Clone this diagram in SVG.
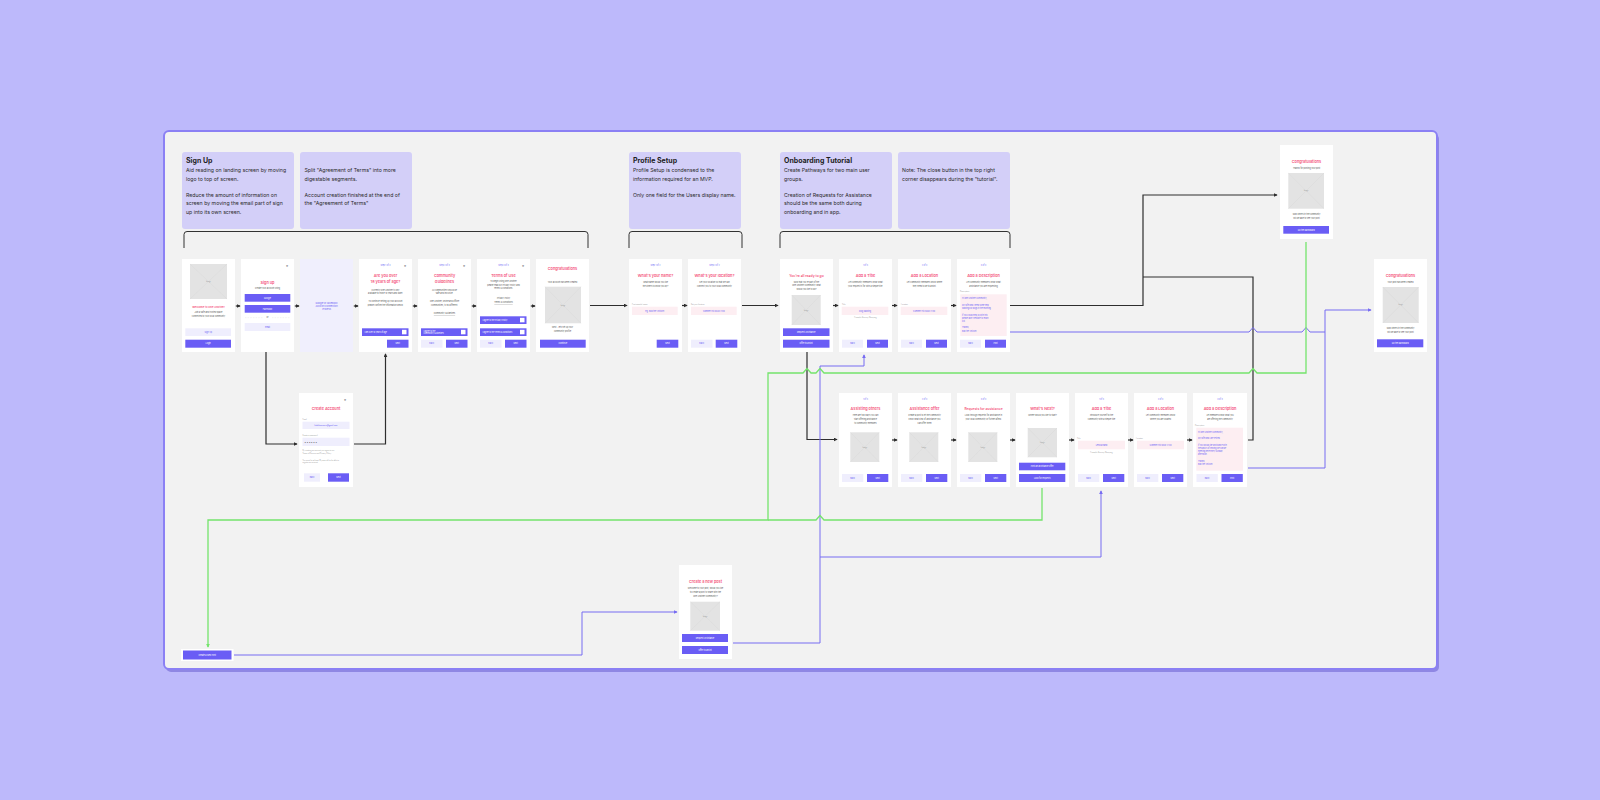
<svg xmlns="http://www.w3.org/2000/svg" width="1600" height="800" viewBox="0 0 1600 800">
<style>
text{font-family:Inter,"Noto Sans","DejaVu Sans",sans-serif}
.sc{fill:#fff}
.nt{fill:#d3cff8}
.nh{font-size:7px;font-weight:700;fill:#1e1e1e}
.nb{font-size:5.2px;fill:#2b2b2b}
.st{font-size:2px;fill:#6c5ff5;text-anchor:middle}
.tt{font-size:3.8px;font-weight:600;fill:#f4527b;text-anchor:middle}
.bd{font-size:2px;fill:#555;text-anchor:middle}
.lb{font-size:1.7px;fill:#999}
.bp{fill:#6a5df5}
.bl{fill:#efeefd}
.wt{font-size:2px;fill:#fff;text-anchor:middle}
.wl{font-size:1.9px;fill:#fff}
.pt{font-size:2px;fill:#6a5df5;text-anchor:middle}
.pl{font-size:1.9px;fill:#6a5df5}
.im{fill:#e3e3e3}
.imx{stroke:#d4d4d4;stroke-width:0.3;fill:none}
.it{font-size:1.6px;fill:#999;text-anchor:middle}
.in{fill:#fdeef2}
.cx{font-size:4px;fill:#333;text-anchor:middle}
.k{fill:none;stroke:#2e2e2e;stroke-width:1.2}
.g{fill:none;stroke:#74e46c;stroke-width:1.3}
.p{fill:none;stroke:#776cf2;stroke-width:1}
.br{fill:none;stroke:#333;stroke-width:1}
</style>
<defs>
<marker id="ak" viewBox="0 0 6 6" refX="5" refY="3" markerWidth="4" markerHeight="4" orient="auto" markerUnits="userSpaceOnUse"><path d="M0,0L6,3L0,6z" fill="#2e2e2e"/></marker>
<marker id="ag" viewBox="0 0 6 6" refX="5" refY="3" markerWidth="4" markerHeight="4" orient="auto" markerUnits="userSpaceOnUse"><path d="M0,0L6,3L0,6z" fill="#74e46c"/></marker>
<marker id="ap" viewBox="0 0 6 6" refX="5" refY="3" markerWidth="4" markerHeight="4" orient="auto" markerUnits="userSpaceOnUse"><path d="M0,0L6,3L0,6z" fill="#776cf2"/></marker>
</defs>

<rect width="1600" height="800" fill="#bdb9fb"/>
<rect x="166" y="134" width="1273" height="538" rx="5" fill="#8f87e3"/>
<rect x="164" y="131" width="1273" height="538" rx="5" fill="#f2f2f2" stroke="#8b80f4" stroke-width="2"/>

<!-- notes -->
<g id="note-signup">
<rect class="nt" x="182" y="152" width="112" height="77" rx="3"/>
<text class="nh" x="186" y="163">Sign Up</text>
<text class="nb" x="186" y="172.3">Aid reading on landing screen by moving</text>
<text class="nb" x="186" y="180.7">logo to top of screen.</text>
<text class="nb" x="186" y="197">Reduce the amount of information on</text>
<text class="nb" x="186" y="205.3">screen by moving the email part of sign</text>
<text class="nb" x="186" y="213.7">up into its own screen.</text>
</g>
<g id="note-terms">
<rect class="nt" x="300" y="152" width="112" height="77" rx="3"/>
<text class="nb" x="304.5" y="172.3">Split "Agreement of Terms" into more</text>
<text class="nb" x="304.5" y="180.7">digestable segments.</text>
<text class="nb" x="304.5" y="197">Account creation finished at the end of</text>
<text class="nb" x="304.5" y="205.3">the "Agreement of Terms"</text>
</g>
<g id="note-profile">
<rect class="nt" x="629" y="152" width="112" height="77" rx="3"/>
<text class="nh" x="633" y="163">Profile Setup</text>
<text class="nb" x="633" y="172.3">Profile Setup is condensed to the</text>
<text class="nb" x="633" y="180.7">information required for an MVP.</text>
<text class="nb" x="633" y="197">Only one field for the Users display name.</text>
</g>
<g id="note-onboarding">
<rect class="nt" x="780" y="152" width="112" height="77" rx="3"/>
<text class="nh" x="784" y="163">Onboarding Tutorial</text>
<text class="nb" x="784" y="172.3">Create Pathways for two main user</text>
<text class="nb" x="784" y="180.7">groups.</text>
<text class="nb" x="784" y="197">Creation of Requests for Assistance</text>
<text class="nb" x="784" y="205.3">should be the same both during</text>
<text class="nb" x="784" y="213.7">onboarding and in app.</text>
</g>
<g id="note-close">
<rect class="nt" x="898" y="152" width="112" height="77" rx="3"/>
<text class="nb" x="902" y="172.3">Note: The close button in the top right</text>
<text class="nb" x="902" y="180.7">corner disappears during the "tutorial".</text>
</g>

<g id="brackets">
<path class="br" d="M184,248V234.5Q184,231.5 187,231.5H585Q588,231.5 588,234.5V248"/>
<path class="br" d="M629,248V234.5Q629,231.5 632,231.5H739Q742,231.5 742,234.5V248"/>
<path class="br" d="M780,248V234.5Q780,231.5 783,231.5H1007Q1010,231.5 1010,234.5V248"/>
</g>

<!-- connectors -->
<g id="connectors">
<path class="k" d="M235.8,306H240" marker-end="url(#ak)"/>
<path class="k" d="M294.8,306H299" marker-end="url(#ak)"/>
<path class="k" d="M353.8,306H358" marker-end="url(#ak)"/>
<path class="k" d="M412.8,306H417" marker-end="url(#ak)"/>
<path class="k" d="M471.8,306H476" marker-end="url(#ak)"/>
<path class="k" d="M530.8,306H535" marker-end="url(#ak)"/>
<path class="k" d="M590,305.5H627" marker-end="url(#ak)"/>
<path class="k" d="M682,305.5H687" marker-end="url(#ak)"/>
<path class="k" d="M742,305.5H778" marker-end="url(#ak)"/>
<path class="k" d="M833,305.5H838" marker-end="url(#ak)"/>
<path class="k" d="M892,305.5H897" marker-end="url(#ak)"/>
<path class="k" d="M951,305.5H956" marker-end="url(#ak)"/>
<path class="k" d="M1010,305.5H1143V195H1277" marker-end="url(#ak)"/>
<path class="k" d="M1248,440H1253V277H1143"/>
<path class="k" d="M266,352V444H297" marker-end="url(#ak)"/>
<path class="k" d="M354,444H385.5V354" marker-end="url(#ak)"/>
<path class="k" d="M807,352V439.5H837" marker-end="url(#ak)"/>
<path class="k" d="M892,440H897" marker-end="url(#ak)"/>
<path class="k" d="M951,440H956" marker-end="url(#ak)"/>
<path class="k" d="M1010,440H1015" marker-end="url(#ak)"/>
<path class="k" d="M1069,440H1074" marker-end="url(#ak)"/>
<path class="k" d="M1128,440H1133" marker-end="url(#ak)"/>
<path class="k" d="M1187,440H1192" marker-end="url(#ak)"/>
<path class="p" d="M1010,332H1249L1253,327.5L1257,332H1302L1306,327.5L1310,332H1325"/>
<path class="p" d="M1248,468H1325V310H1371" marker-end="url(#ap)"/>
<path class="p" d="M234,655H582V612H677" marker-end="url(#ap)"/>
<path class="p" d="M733,643H820V366H864V355" marker-end="url(#ap)"/>
<path class="p" d="M820,557H1101V491" marker-end="url(#ap)"/>
<path class="g" d="M1306,242V373H1257L1253,368.5L1249,373H824L820,368.5L816,373H811L807,368.5L803,373H768V520H208V647" marker-end="url(#ag)"/>
<path class="g" d="M1042,488V520H824L820,515.5L816,520H768"/>
</g>

<!-- Row 1 screens -->
<g id="s-welcome" transform="translate(182,259)">
<rect class="sc" width="53" height="93"/>
<rect class="im" x="8" y="5" width="37" height="35"/><path class="imx" d="M8,5L45,40M45,5L8,40"/><text class="it" x="26.5" y="23">Image</text>
<text class="tt" x="26.5" y="48.5" style="font-size:2.7px">Welcome to One Another</text>
<text class="bd" x="26.5" y="54">Join a safe and trusted space</text>
<text class="bd" x="26.5" y="57.5">connected to your local community</text>
<rect class="bl" x="3.3" y="69.3" width="45.7" height="7.7"/><text class="pt" x="26.2" y="73.9">Sign Up</text>
<rect class="bp" x="3.3" y="80.7" width="45.7" height="8"/><text class="wt" x="26.2" y="85.4">Login</text>
</g>
<g id="s-signup" transform="translate(241,259)">
<rect class="sc" width="53" height="93"/>
<text class="cx" x="46" y="8.2">×</text>
<text class="tt" x="26.5" y="24.5">Sign up</text>
<text class="bd" x="26.5" y="30">Create your account using</text>
<rect class="bp" x="3.7" y="35" width="45.6" height="7.7"/><text class="wt" x="26.5" y="39.5">Google</text>
<rect class="bp" x="3.7" y="46" width="45.6" height="7.7"/><text class="wt" x="26.5" y="50.5">Facebook</text>
<path d="M4,58.7H22M31,58.7H49" stroke="#ccc" stroke-width="0.3" stroke-dasharray="0.8,0.8"/>
<text class="bd" x="26.5" y="59.3">or</text>
<rect class="bl" x="3.7" y="64" width="45.6" height="8"/><text class="pt" x="26.5" y="68.7">Email</text>
</g>
<g id="s-connect" transform="translate(300,259)">
<rect width="53" height="93" fill="#f0effd"/>
<text class="pt" x="26.5" y="44.5" style="font-size:2.3px">Google or Facebook</text>
<text class="pt" x="26.5" y="47.8" style="font-size:2.3px">Account Connection</text>
<text class="pt" x="26.5" y="51.1" style="font-size:2.3px">Process</text>
</g>
<g id="s-age" transform="translate(359,259)">
<rect class="sc" width="53" height="93"/>
<text class="st" x="26.5" y="7">Step 1 of 3</text><text class="cx" x="46" y="8.2">×</text>
<text class="tt" x="26.5" y="17.5">Are you over</text>
<text class="tt" x="26.5" y="24">18 years of age?</text>
<text class="bd" x="26.5" y="31.5">Currently One Another is only</text>
<text class="bd" x="26.5" y="35">available to those 18 years and older.</text>
<text class="bd" x="26.5" y="43">To continue setting up your account</text>
<text class="bd" x="26.5" y="46.5">please confirm the information below.</text>
<rect class="bp" x="3" y="69.3" width="46.5" height="7.7"/><text class="wl" x="5.5" y="73.8">I am over 18 years of age</text><rect x="43" y="70.8" width="4.5" height="4.5" fill="#fff"/>
<rect class="bp" x="28" y="80.7" width="21.5" height="8"/><text class="wt" x="38.7" y="85.4">Next</text>
</g>
<g id="s-guidelines" transform="translate(418,259)">
<rect class="sc" width="53" height="93"/>
<text class="st" x="26.5" y="7">Step 2 of 3</text><text class="cx" x="46" y="8.2">×</text>
<text class="tt" x="26.5" y="17.5">Community</text>
<text class="tt" x="26.5" y="24">Guidelines</text>
<text class="bd" x="26.5" y="31.5">All communities should be</text>
<text class="bd" x="26.5" y="35">safe and inclusive.</text>
<text class="bd" x="26.5" y="43">One Another, online and offline</text>
<text class="bd" x="26.5" y="46.5">communities, is no different.</text>
<text class="bd" x="26.5" y="55" text-decoration="underline">Community Guidelines</text>
<rect class="bp" x="3" y="69.3" width="46.5" height="7.7"/><text class="wl" x="5.5" y="72.6">I agree to the</text><text class="wl" x="5.5" y="75.1">Community Guidelines</text><rect x="43" y="70.8" width="4.5" height="4.5" fill="#fff"/>
<rect class="bl" x="3" y="80.7" width="21.5" height="8"/><text class="pt" x="13.7" y="85.4">Back</text>
<rect class="bp" x="28" y="80.7" width="21.5" height="8"/><text class="wt" x="38.7" y="85.4">Next</text>
</g>
<g id="s-terms" transform="translate(477,259)">
<rect class="sc" width="53" height="93"/>
<text class="st" x="26.5" y="7">Step 3 of 3</text><text class="cx" x="46" y="8.2">×</text>
<text class="tt" x="26.5" y="17.5">Terms of Use</text>
<text class="bd" x="26.5" y="23.4">To begin using One Another</text>
<text class="bd" x="26.5" y="26.7">please read our Privacy Policy and</text>
<text class="bd" x="26.5" y="30">Terms &amp; Conditions.</text>
<text class="bd" x="26.5" y="40">Privacy Policy</text>
<text class="bd" x="26.5" y="44" text-decoration="underline">Terms &amp; Conditions</text>
<rect class="bp" x="3" y="57.3" width="46.5" height="7.7"/><text class="wl" x="5.5" y="61.8">I agree to the Privacy Policy</text><rect x="43" y="58.8" width="4.5" height="4.5" fill="#fff"/>
<rect class="bp" x="3" y="69.3" width="46.5" height="7.7"/><text class="wl" x="5.5" y="73.8">I agree to the Terms &amp; Conditions</text><rect x="43" y="70.8" width="4.5" height="4.5" fill="#fff"/>
<rect class="bl" x="3" y="80.7" width="21.5" height="8"/><text class="pt" x="13.7" y="85.4">Back</text>
<rect class="bp" x="28" y="80.7" width="21.5" height="8"/><text class="wt" x="38.7" y="85.4">Next</text>
</g>
<g id="s-congrats-account" transform="translate(536,259)">
<rect class="sc" width="53" height="93"/>
<text class="tt" x="26.5" y="11.3">Congratulations</text>
<text class="bd" x="26.5" y="23.7">Your account has been created</text>
<rect class="im" x="9" y="27.7" width="36" height="36.6"/><path class="imx" d="M9,27.7L45,64.3M45,27.7L9,64.3"/><text class="it" x="27" y="46.5">Image</text>
<text class="bd" x="26.5" y="69.4">Next - lets set up your</text>
<text class="bd" x="26.5" y="73.4">community profile</text>
<rect class="bp" x="4" y="80.7" width="45.7" height="8"/><text class="wt" x="26.8" y="85.4">Continue</text>
</g>
<g id="s-name" transform="translate(629,259)">
<rect class="sc" width="53" height="93"/>
<text class="st" x="26.5" y="7">Step 1 of 2</text>
<text class="tt" x="26.5" y="17.5">What's your name?</text>
<text class="bd" x="26.5" y="24">What name would you like</text>
<text class="bd" x="26.5" y="27.7">the others to know you by?</text>
<text class="lb" x="3" y="45.8">First name(s) name</text>
<rect class="in" x="3" y="47.7" width="45.7" height="8.3"/><text class="pt" x="25.8" y="52.5">eg. Bob the Unicorn</text>
<rect class="bp" x="27.7" y="80.7" width="21.6" height="8"/><text class="wt" x="38.5" y="85.4">Next</text>
</g>
<g id="s-location" transform="translate(688,259)">
<rect class="sc" width="53" height="93"/>
<text class="st" x="26.5" y="7">Step 2 of 2</text>
<text class="tt" x="26.5" y="17.5">What's your location?</text>
<text class="bd" x="26.5" y="24">Set your location so that we can</text>
<text class="bd" x="26.5" y="27.7">connect you to your local community</text>
<text class="lb" x="3" y="45.8">Set your location</text>
<rect class="in" x="3" y="47.7" width="45.7" height="8.3"/><text class="pt" x="25.8" y="52.5">Summer Hill NSW 2130</text>
<rect class="bl" x="3" y="80.7" width="21.5" height="8"/><text class="pt" x="13.7" y="85.4">Back</text>
<rect class="bp" x="27.7" y="80.7" width="21.6" height="8"/><text class="wt" x="38.5" y="85.4">Next</text>
</g>
<g id="s-ready" transform="translate(780,259)">
<rect class="sc" width="53" height="93"/>
<text class="tt" x="26.5" y="17.5" style="font-size:3.4px">You're all ready to go</text>
<text class="bd" x="26.5" y="24">Now that you're part of the</text>
<text class="bd" x="26.5" y="27.4">One Another Community what</text>
<text class="bd" x="26.5" y="30.8">would you like to do?</text>
<rect class="im" x="11.7" y="36" width="29" height="30"/><path class="imx" d="M11.7,36L40.7,66M40.7,36L11.7,66"/><text class="it" x="26.2" y="51.5">Image</text>
<rect class="bp" x="3" y="69.3" width="46.5" height="7.7"/><text class="wt" x="26.2" y="73.9">Request Assistance</text>
<rect class="bp" x="3" y="80.7" width="46.5" height="8"/><text class="wt" x="26.2" y="85.4">Offer to assist</text>
</g>
<g id="s-req-title" transform="translate(839,259)">
<rect class="sc" width="53" height="93"/>
<text class="st" x="26.5" y="7">1 of 3</text>
<text class="tt" x="26.5" y="17.5">Add a Title</text>
<text class="bd" x="26.5" y="24">Let community members know what</text>
<text class="bd" x="26.5" y="27.7">your request is for with a simple title.</text>
<text class="lb" x="3" y="45.8">Title</text>
<rect class="in" x="2.7" y="47.7" width="46.6" height="8.3"/><text class="pt" x="26" y="52.5">Dog Walking</text>
<text class="lb" x="26.5" y="59.3" text-anchor="middle">Example: Grocery Shopping</text>
<rect class="bl" x="3" y="80.7" width="21" height="8"/><text class="pt" x="13.5" y="85.4">Back</text>
<rect class="bp" x="28" y="80.7" width="21" height="8"/><text class="wt" x="38.5" y="85.4">Next</text>
</g>
<g id="s-req-location" transform="translate(898,259)">
<rect class="sc" width="53" height="93"/>
<text class="st" x="26.5" y="7">2 of 3</text>
<text class="tt" x="26.5" y="17.5">Add a Location</text>
<text class="bd" x="26.5" y="24">Let community members know where</text>
<text class="bd" x="26.5" y="27.7">they need to be to assist.</text>
<text class="lb" x="3" y="45.8">Location</text>
<rect class="in" x="2.7" y="47.7" width="46.6" height="8.3"/><text class="pt" x="26" y="52.5">Summer Hill NSW 2130</text>
<rect class="bl" x="3" y="80.7" width="21" height="8"/><text class="pt" x="13.5" y="85.4">Back</text>
<rect class="bp" x="28" y="80.7" width="21" height="8"/><text class="wt" x="38.5" y="85.4">Next</text>
</g>
<g id="s-req-description" transform="translate(957,259)">
<rect class="sc" width="53" height="93"/>
<text class="st" x="26.5" y="7">3 of 3</text>
<text class="tt" x="26.5" y="17.5">Add a Description</text>
<text class="bd" x="26.5" y="24">Let community members know what</text>
<text class="bd" x="26.5" y="27.7">assistance you are requesting</text>
<text class="lb" x="3" y="33">Description</text>
<rect class="in" x="3.3" y="35.3" width="46.4" height="41.7"/>
<text class="pl" x="5" y="40">Hi One Another Community,</text>
<text class="pl" x="5" y="46.6">My wife and I need some help</text>
<text class="pl" x="5" y="49.9">walking our dogs in the morning.</text>
<text class="pl" x="5" y="56.6">If you could help us with this</text>
<text class="pl" x="5" y="59.9">please don't hesitate to reach</text>
<text class="pl" x="5" y="63.2">out.</text>
<text class="pl" x="5" y="69.3">Thanks,</text>
<text class="pl" x="5" y="72.6">Bob the Unicorn</text>
<rect class="bl" x="3" y="80.7" width="21" height="8"/><text class="pt" x="13.5" y="85.4">Back</text>
<rect class="bp" x="28" y="80.7" width="21" height="8"/><text class="wt" x="38.5" y="85.4">Post</text>
</g>

<g id="s-congrats-offer" transform="translate(1280,145)">
<rect class="sc" width="53" height="94"/>
<text class="tt" x="26.5" y="18">Congratulations</text>
<text class="bd" x="26.5" y="23.6">Thanks for posting your post</text>
<rect class="im" x="8.3" y="28" width="35.7" height="35.7"/><path class="imx" d="M8.3,28L44,63.7M44,28L8.3,63.7"/><text class="it" x="26.2" y="46.3">Image</text>
<text class="bd" x="26.5" y="70.4">Now others in the community</text>
<text class="bd" x="26.5" y="74.4">will be able to see your post</text>
<rect class="bp" x="3.3" y="81" width="45.7" height="7.7"/><text class="wt" x="26.2" y="85.6">Go the dashboard</text>
</g>
<g id="s-congrats-post" transform="translate(1374,259)">
<rect class="sc" width="53" height="93"/>
<text class="tt" x="26.5" y="17.6">Congratulations</text>
<text class="bd" x="26.5" y="24">Your post has been created</text>
<rect class="im" x="8.7" y="28" width="36" height="36"/><path class="imx" d="M8.7,28L44.7,64M44.7,28L8.7,64"/><text class="it" x="26.7" y="46.3">Image</text>
<text class="bd" x="26.5" y="70">Now others in the community</text>
<text class="bd" x="26.5" y="74">will be able to see your post</text>
<rect class="bp" x="3" y="80.3" width="46.3" height="8"/><text class="wt" x="26.2" y="85">Go the dashboard</text>
</g>

<g id="s-create-account" transform="translate(299,393)">
<rect class="sc" width="54" height="94"/>
<text class="cx" x="46" y="8.2">×</text>
<text class="tt" x="27" y="17.3">Create Account</text>
<text class="lb" x="3.5" y="27">Email</text>
<rect class="bl" x="3.5" y="28.7" width="47" height="7.3"/><text class="pt" x="27" y="33" style="font-size:1.8px">bobtheunicorn@gmail.com</text>
<text class="lb" x="3.5" y="42.7">Create a password</text>
<rect class="bl" x="3.5" y="44.7" width="47" height="8.3"/><text x="5.5" y="50" style="font-size:2.6px;fill:#333">• • • • • •</text>
<text class="lb" x="3.5" y="58.3">By creating an account you agree to our</text>
<text class="lb" x="3.5" y="60.6">Terms of Service and Privacy Policy</text>
<text class="lb" x="3.5" y="67.5">You must be at least 18 years old to be able to</text>
<text class="lb" x="3.5" y="69.8">register an account</text>
<rect class="bl" x="5" y="80.3" width="16" height="8.4"/><text class="pt" x="13" y="85.2">Back</text>
<rect class="bp" x="29" y="80.3" width="21" height="8.4"/><text class="wt" x="39.5" y="85.2">Next</text>
</g>

<!-- Row 2 screens -->
<g id="s-assisting" transform="translate(839,393)">
<rect class="sc" width="53" height="94"/>
<text class="st" x="26.5" y="7">1 of 3</text>
<text class="tt" x="26.5" y="17.3">Assisting others</text>
<text class="bd" x="26.5" y="23.4">Here are two ways you can</text>
<text class="bd" x="26.5" y="27">start offering assistance</text>
<text class="bd" x="26.5" y="30.6">to community members</text>
<rect class="im" x="11.3" y="39.3" width="29" height="29.7"/><path class="imx" d="M11.3,39.3L40.3,69M40.3,39.3L11.3,69"/><text class="it" x="25.8" y="54.6">Image</text>
<rect class="bl" x="3" y="81" width="21.3" height="8"/><text class="pt" x="13.6" y="85.7">Back</text>
<rect class="bp" x="28" y="81" width="21.3" height="8"/><text class="wt" x="38.6" y="85.7">Next</text>
</g>
<g id="s-offer" transform="translate(898,393)">
<rect class="sc" width="53" height="94"/>
<text class="st" x="26.5" y="7">2 of 3</text>
<text class="tt" x="26.5" y="17.3">Assistance offer</text>
<text class="bd" x="26.5" y="23.4">Create a post to let the community</text>
<text class="bd" x="26.5" y="27">know what kind of assistance you</text>
<text class="bd" x="26.5" y="30.6">can offer them</text>
<rect class="im" x="11.3" y="39.3" width="29" height="29.7"/><path class="imx" d="M11.3,39.3L40.3,69M40.3,39.3L11.3,69"/><text class="it" x="25.8" y="54.6">Image</text>
<rect class="bl" x="3" y="81" width="21.3" height="8"/><text class="pt" x="13.6" y="85.7">Back</text>
<rect class="bp" x="28" y="81" width="21.3" height="8"/><text class="wt" x="38.6" y="85.7">Next</text>
</g>
<g id="s-requests" transform="translate(957,393)">
<rect class="sc" width="53" height="94"/>
<text class="st" x="26.5" y="7">3 of 3</text>
<text class="tt" x="26.5" y="17.3" style="font-size:3.3px">Requests for assistance</text>
<text class="bd" x="26.5" y="23.4">Look through requests for assistance in</text>
<text class="bd" x="26.5" y="27">your local community or further afield.</text>
<rect class="im" x="11.3" y="39.3" width="29" height="29.7"/><path class="imx" d="M11.3,39.3L40.3,69M40.3,39.3L11.3,69"/><text class="it" x="25.8" y="54.6">Image</text>
<rect class="bl" x="3" y="81" width="21.3" height="8"/><text class="pt" x="13.6" y="85.7">Back</text>
<rect class="bp" x="28" y="81" width="21.3" height="8"/><text class="wt" x="38.6" y="85.7">Next</text>
</g>
<g id="s-whats-next" transform="translate(1016,393)">
<rect class="sc" width="53" height="94"/>
<text class="tt" x="26.5" y="17.3">What's Next?</text>
<text class="bd" x="26.5" y="23.4">Where would you like to start?</text>
<rect class="im" x="11.7" y="35" width="29.3" height="29.3"/><path class="imx" d="M11.7,35L41,64.3M41,35L11.7,64.3"/><text class="it" x="26.3" y="50">Image</text>
<rect class="bp" x="3" y="69.7" width="46.3" height="7.6"/><text class="wt" x="26.2" y="74.2">Post an assistance offer</text>
<rect class="bp" x="3" y="81" width="46.3" height="8"/><text class="wt" x="26.2" y="85.7">Look for requests</text>
</g>
<g id="s-offer-title" transform="translate(1075,393)">
<rect class="sc" width="53" height="94"/>
<text class="st" x="26.5" y="7">1 of 3</text>
<text class="tt" x="26.5" y="17.3">Add a Title</text>
<text class="bd" x="26.5" y="23.4">Introduce yourself to the</text>
<text class="bd" x="26.5" y="27">community with a simple title</text>
<text class="lb" x="2" y="46.3">Title</text>
<rect class="in" x="3" y="47.7" width="47" height="8.6"/><text class="pt" x="26.5" y="52.6">Lend a hand</text>
<text class="lb" x="26.5" y="59.6" text-anchor="middle">Example: Grocery Shopping</text>
<rect class="bl" x="3" y="81" width="21.3" height="8"/><text class="pt" x="13.6" y="85.7">Back</text>
<rect class="bp" x="28" y="81" width="21.3" height="8"/><text class="wt" x="38.6" y="85.7">Next</text>
</g>
<g id="s-offer-location" transform="translate(1134,393)">
<rect class="sc" width="53" height="94"/>
<text class="st" x="26.5" y="7">2 of 3</text>
<text class="tt" x="26.5" y="17.3">Add a Location</text>
<text class="bd" x="26.5" y="23.4">Let community members know</text>
<text class="bd" x="26.5" y="27">where you are located</text>
<text class="lb" x="2" y="46.3">Location</text>
<rect class="in" x="3" y="47.7" width="47" height="8.6"/><text class="pt" x="26.5" y="52.6">Summer Hill NSW 2130</text>
<rect class="bl" x="3" y="81" width="21.3" height="8"/><text class="pt" x="13.6" y="85.7">Back</text>
<rect class="bp" x="28" y="81" width="21.3" height="8"/><text class="wt" x="38.6" y="85.7">Next</text>
</g>
<g id="s-offer-description" transform="translate(1193,393)">
<rect class="sc" width="54" height="94"/>
<text class="st" x="27" y="7">3 of 3</text>
<text class="tt" x="27" y="17.3">Add a Description</text>
<text class="bd" x="27" y="23.4">Let members know what you</text>
<text class="bd" x="27" y="27">are offering the community</text>
<text class="lb" x="2" y="32.6">Description</text>
<rect class="in" x="3.3" y="34.7" width="46.7" height="43"/>
<text class="pl" x="5" y="39.5">Hi One Another Community,</text>
<text class="pl" x="5" y="45.8">My wife and I are retired.</text>
<text class="pl" x="5" y="52.8">If you would like assistance with</text>
<text class="pl" x="5" y="55.8">the basics of sewing we can be</text>
<text class="pl" x="5" y="58.8">meeting here every Sunday</text>
<text class="pl" x="5" y="61.8">afternoon.</text>
<text class="pl" x="5" y="68.6">Thanks,</text>
<text class="pl" x="5" y="71.8">Bob the Unicorn</text>
<rect class="bl" x="3.5" y="81" width="21.3" height="8"/><text class="pt" x="14.1" y="85.7">Back</text>
<rect class="bp" x="28.5" y="81" width="21.3" height="8"/><text class="wt" x="39.1" y="85.7">Post</text>
</g>

<g id="s-new-post" transform="translate(679,565)">
<rect class="sc" width="53" height="94"/>
<text class="tt" x="26.5" y="17.8">Create a new post</text>
<text class="bd" x="26.5" y="24">Welcome to your post, would you like</text>
<text class="bd" x="26.5" y="28">to create a post to share with the</text>
<text class="bd" x="26.5" y="31.7">One Another Community?</text>
<rect class="im" x="11.3" y="36.7" width="29.7" height="29"/><path class="imx" d="M11.3,36.7L41,65.7M41,36.7L11.3,65.7"/><text class="it" x="26.2" y="51.8">Image</text>
<rect class="bp" x="3" y="69" width="46" height="8"/><text class="wt" x="26" y="73.7">Request Assistance</text>
<rect class="bp" x="3" y="81" width="46" height="8"/><text class="wt" x="26" y="85.7">Offer to assist</text>
</g>

<g id="btn-new-post">
<rect x="181" y="649" width="52.5" height="12" fill="#fff"/>
<rect class="bp" x="183" y="650.5" width="48.5" height="9"/>
<text class="wt" x="207.2" y="655.7">Create a New Post</text>
</g>
</svg>
